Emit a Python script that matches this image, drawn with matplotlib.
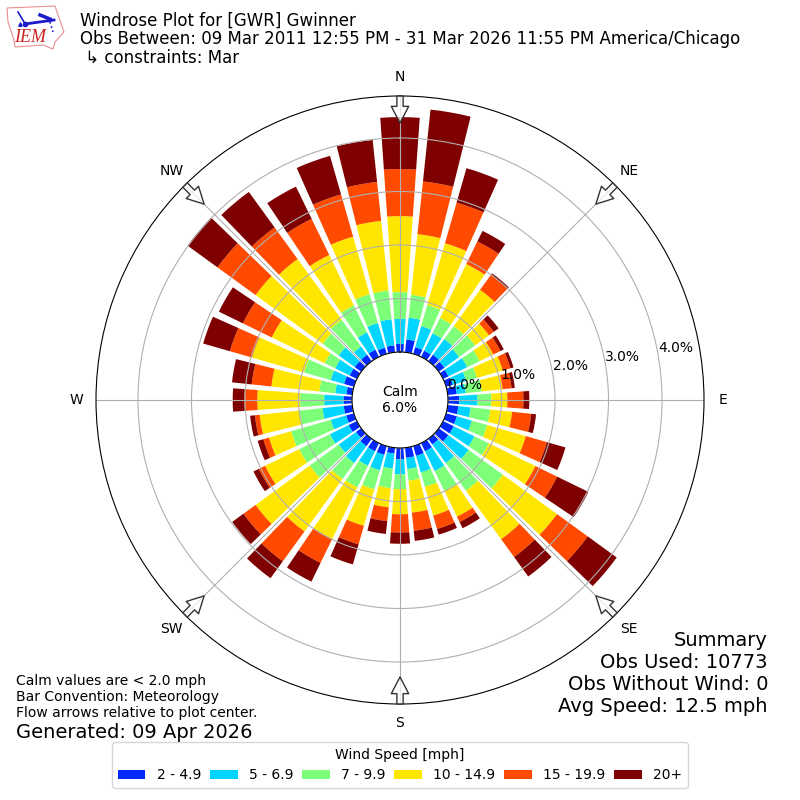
import numpy as np
import matplotlib
matplotlib.use('Agg')
import matplotlib.pyplot as plt
from matplotlib.patches import Polygon

#DIRECTIONS THE WIND COMES FROM, EVERY 10 DEGREES STARTING AT NORTH
directions = np.arange(0, 360, 10)

#PERCENT OF OBS IN EACH SPEED BIN FOR EVERY DIRECTION
bin_2_5 = [.15, .24, .13, .13, .15, .13, .11, .13, .17, .21, .20, .21,
           .22, .22, .13, .17, .19, .19, .21, .11, .17, .17, .17, .12,
           .17, .15, .16, .16, .11, .19, .15, .15, .15, .15, .12, .13]
bin_5_7 = [.47, .41, .41, .36, .36, .34, .39, .26, .17, .34, .23, .29,
           .43, .47, .43, .41, .32, .21, .28, .28, .30, .30, .39, .40,
           .39, .30, .40, .36, .21, .26, .30, .37, .19, .36, .48, .49]
bin_7_10 = [.50, .43, .41, .32, .30, .37, .26, .21, .30, .26, .37, .30,
            .30, .79, .64, .41, .28, .22, .28, .37, .37, .45, .37, .67,
            .64, .77, .43, .45, .30, .52, .22, .37, .62, .56, .56, .54]
bin_10_15 = [1.42, 1.14, 1.20, 1.12, .84, .32, .28, .50, .39, .30, .41, .75,
             .97, 1.25, 1.12, .54, .56, .60, .47, .36, .71, 1.08, 1.21, 1.25,
             .71, .43, .75, .80, .90, 1.01, 1.10, 1.55, 1.40, 1.05, 1.12, 1.31]
bin_15_20 = [.88, .99, .79, .47, .34, .11, .15, .15, .17, .30, .36, .41,
             .45, .71, .41, .11, .26, .34, .34, .26, .36, .49, .69, .28,
             .13, .11, .09, .24, .37, .43, .60, .88, .73, .75, .82, .73]
bin_20_up = [.97, 1.35, .67, .22, .04, .11, .07, .06, .06, .11, .09, .36,
             .65, .67, .45, .13, .11, .19, .21, .24, .39, .39, .39, .26,
             .11, .11, .09, .22, .37, .52, .50, .69, .82, .67, .75, .79]

speed_bins = [bin_2_5, bin_5_7, bin_7_10, bin_10_15, bin_15_20, bin_20_up]
speed_labels = ['2 - 4.9', '5 - 6.9', '7 - 9.9', '10 - 14.9', '15 - 19.9', '20+']
colors = ['#0028ff', '#00d4ff', '#7dff7a', '#ffe600', '#ff4a00', '#7f0000']

compass_angles = [0, 45, 90, 135, 180, 225, 270, 315]
compass_labels = ['N', 'NE', 'E', 'SE', 'S', 'SW', 'W', 'NW']
r_ticks = [0, 1, 2, 3, 4]
r_tick_labels = ['0.0%', '1.0%', '2.0%', '3.0%', '4.0%']

fig = plt.figure(figsize=(8, 8), dpi=100)
ax = fig.add_axes([0.12, 0.12, 0.76, 0.76], projection='polar')
ax.set_theta_zero_location('N')
ax.set_theta_direction(-1)

#stack the bars on top of each other
bottom = np.zeros(36)
for values, label, color in zip(speed_bins, speed_labels, colors):
    ax.bar(np.deg2rad(directions), values, width=np.deg2rad(8), bottom=bottom,
           color=color, linewidth=0, label=label)
    bottom = bottom + np.array(values)

ax.set_rorigin(-0.897)
ax.set_ylim(0, 4.785)
ax.set_rgrids(r_ticks, r_tick_labels)
ax.set_rlabel_position(80)
ax.set_thetagrids(compass_angles, compass_labels)
ax.tick_params(axis='x', pad=3.5)
ax.text(0.5, 0.5, 'Calm\n6.0%', transform=ax.transAxes, ha='center', va='center', fontsize=10)

#flow arrows at the edge of the plot pointing at the center
for angle in compass_angles:
    ax.annotate('', xy=(np.deg2rad(angle), 4.28), xytext=(np.deg2rad(angle), 4.785),
                arrowprops=dict(facecolor=(1, 1, 1, 0.7), edgecolor='#333333', linewidth=1,
                                width=4.5, headwidth=12.5, headlength=12, shrink=0))

fig.legend(title='Wind Speed [mph]', loc='lower center', ncol=6, columnspacing=0.64,
           bbox_to_anchor=(0.5, 0.015), borderaxespad=0)

fig.text(0.1, 0.985, 'Windrose Plot for [GWR] Gwinner\n'
         'Obs Between: 09 Mar 2011 12:55 PM - 31 Mar 2026 11:55 PM America/Chicago\n'
         ' \u21b3 constraints: Mar', va='top', fontsize=12, linespacing=1.03)
fig.text(0.96, 0.1045, 'Summary\nObs Used: 10773\nObs Without Wind: 0\nAvg Speed: 12.5 mph',
         ha='right', va='bottom', fontsize=14)
fig.text(0.02, 0.1, 'Calm values are < 2.0 mph\nBar Convention: Meteorology\n'
         'Flow arrows relative to plot center.', va='bottom', fontsize=10)
fig.text(0.02, 0.0875, 'Generated: 09 Apr 2026', va='center_baseline', fontsize=14)

#IEM logo, state outline with the wind symbol
logo = fig.add_axes([0, 0.935, 0.0825, 0.065])
logo.set_xlim(0, 66)
logo.set_ylim(52, 0)
logo.axis('off')
iowa_x = [7, 55, 58, 64, 55, 53, 43, 15, 14, 8]
iowa_y = [8, 6, 15, 32, 42, 49, 45, 47, 40, 22]
logo.add_patch(Polygon(np.column_stack([iowa_x, iowa_y]), closed=True, fill=False,
                       edgecolor='#e89090', linewidth=0.8))
logo.plot([25, 54], [24, 20], color='#1a1acc', linewidth=2)
logo.plot([18, 24], [12, 22], color='#1a1acc', linewidth=1.2)
logo.plot([40, 50], [15, 19], color='#1a1acc', linewidth=2.5)
logo.plot([50, 53], [22, 32], color='#1a1acc', linewidth=1.2, linestyle=':')
logo.plot([20], [24], marker='^', color='#1a1acc', markersize=2.5)
logo.plot([25], [24], marker='o', color='#1a1acc', markersize=3)
logo.text(30, 38, 'IEM', color='#cc2222', fontsize=13, style='italic',
          family='Liberation Serif', ha='center', va='center')

plt.savefig('out.png', dpi=100)
